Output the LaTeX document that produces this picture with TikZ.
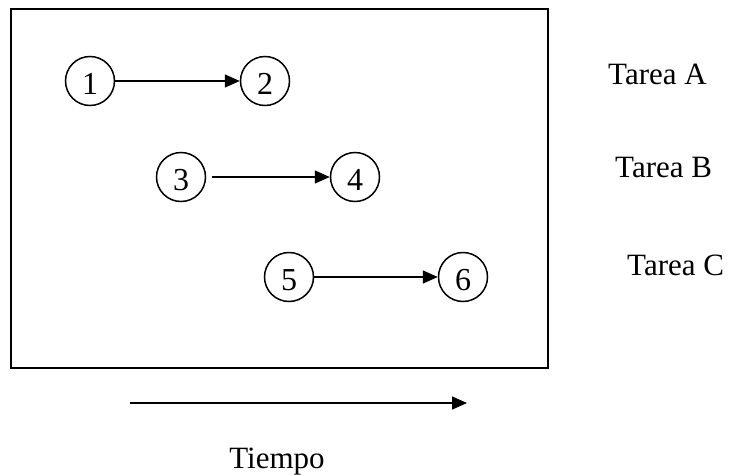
\documentclass[tikz,border=0pt]{standalone}
\usepackage{fontspec}
\setmainfont{Liberation Serif}
\usetikzlibrary{arrows.meta}
\begin{document}
\begin{tikzpicture}[x=1pt,y=-1pt,
  event/.style={circle,draw,line width=1.5pt,minimum size=49pt,inner sep=0pt,
                text height=27pt,text depth=0pt,font=\fontsize{32}{36}\selectfont},
  taskarrow/.style={line width=1.5pt,-{Triangle[length=15pt,width=13pt]}},
  tasklabel/.style={anchor=base west,inner sep=0pt,font=\fontsize{31}{36}\selectfont}]
\useasboundingbox (0,0) rectangle (731,474);

% frame
\draw[line width=2pt] (11,9) rectangle (548,368);

% events
\node[event] (n1) at (90,81)  {1};
\node[event] (n2) at (265,81) {2};
\node[event] (n3) at (181,177) {3};
\node[event] (n4) at (355,177) {4};
\node[event] (n5) at (289,277) {5};
\node[event] (n6) at (463,277) {6};

% tasks
\draw[taskarrow] (n1) -- (n2);
\draw[taskarrow,shorten <=6pt] (n3) -- (n4);
\draw[taskarrow] (n5) -- (n6);

% task names
\node[tasklabel] (ta) at (608,84)  {Tarea A};
\node[tasklabel] (tb) at (615,177) {Tarea B};
\node[tasklabel] (tc) at (627,275) {Tarea C};

% time axis
\coordinate (t0) at (130,403);
\coordinate (t1) at (467,403);
\draw[taskarrow] (t0) -- (t1);
\node[tasklabel,anchor=base] (tiempo) at (277,468) {Tiempo};
\end{tikzpicture}
\end{document}
